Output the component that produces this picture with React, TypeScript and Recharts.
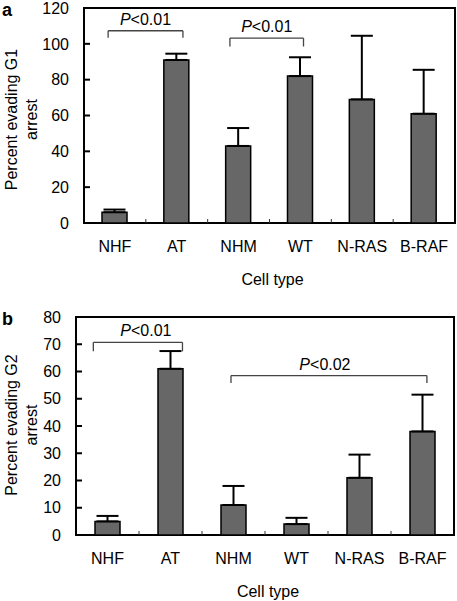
import React from 'react';
import { BarChart, Bar, XAxis, YAxis, ErrorBar, ReferenceLine, ReferenceArea } from 'recharts';

const FONT = '"Liberation Sans", Arial, Helvetica, sans-serif';

const categories = ['NHF', 'AT', 'NHM', 'WT', 'N-RAS', 'B-RAF'];

const g1Means = [6, 91, 43, 82, 69, 61];
const g1Errors = [1.5, 3.5, 10, 10.5, 35.5, 24.5];
const g1Ticks = [0, 20, 40, 60, 80, 100, 120];

const g2Means = [5, 61, 11, 4, 21, 38];
const g2Errors = [2, 6.5, 7, 2.3, 8.5, 13.5];
const g2Ticks = [0, 10, 20, 30, 40, 50, 60, 70, 80];

// significance brackets in data units
const g1Brackets = [
  { x1: -0.11, x2: 1.1, y: 107.3, yEnd: 103.4, text: '<0.01', dx: 0 },
  { x1: 1.86, x2: 3.05, y: 103.2, yEnd: 98.5, text: '<0.01', dx: 0 },
];
const g2Brackets = [
  { x1: -0.225, x2: 1.19, y: 70.7, yEnd: 67.4, text: '<0.01', dx: 8 },
  { x1: 1.96, x2: 5.07, y: 58.5, yEnd: 55.8, text: '<0.02', dx: -4 },
];

const TM_X = 18;
const TM_Y = 15;

type PanelProps = {
  means: number[];
  errors: number[];
  yTicks: number[];
  brackets: typeof g1Brackets;
  letter: string;
  yLabel: string;
  width: number;
  height: number;
  top: number;
  right: number;
  yAxisWidth: number;
  xAxisHeight: number;
  letterY: number;
  yLabelDy: number;
};

function Panel(p: PanelProps) {
  const data = categories.map((c, i) => ({ x: i, name: c, value: p.means[i], err: [0, p.errors[i]] }));
  const band = (p.width - p.yAxisWidth - p.right) / categories.length;
  const yMax = p.yTicks[p.yTicks.length - 1];

  const XTick = (props: any) => {
    const { x, y, payload } = props;
    const v = payload.value as number;
    const axisY = y - TM_X;
    return (
      <g>
        <text x={x} y={y} dy="0.71em" textAnchor="middle" fontSize={16} fill="#000" fontFamily={FONT}>
          {categories[v]}
        </text>
        {v < categories.length - 1 && (
          <line x1={x + band / 2} x2={x + band / 2} y1={axisY} y2={axisY - 4} stroke="#333" strokeWidth={1} />
        )}
      </g>
    );
  };

  const YTick = (props: any) => {
    const { x, y, payload } = props;
    return (
      <g>
        <text x={x} y={y} dy="0.355em" textAnchor="end" fontSize={16} fill="#000" fontFamily={FONT}>
          {payload.value}
        </text>
        <line x1={x + TM_Y} x2={x + TM_Y + 6} y1={y} y2={y} stroke="#000" strokeWidth={2} />
      </g>
    );
  };

  const YLabel = (props: any) => {
    const vb = props.viewBox;
    const cy = vb.y + vb.height / 2 + p.yLabelDy;
    return (
      <g fontFamily={FONT} fontSize={16} fill="#000">
        <text x={2} y={p.letterY} fontSize={18} fontWeight="bold" fill="#000">{p.letter}</text>
        <text x={17} y={cy} textAnchor="middle" transform={`rotate(-90, 17, ${cy})`} fill="#000">
          {p.yLabel}
        </text>
        <text x={37} y={cy} textAnchor="middle" transform={`rotate(-90, 37, ${cy})`} fill="#000">
          arrest
        </text>
      </g>
    );
  };

  const XLabel = (props: any) => {
    const vb = props.viewBox;
    return (
      <text x={vb.x + vb.width / 2 + 3} y={vb.y + 62} textAnchor="middle" fontSize={16} fill="#000" fontFamily={FONT}>
        Cell type
      </text>
    );
  };

  const bracketLabel = (text: string, dx: number) => (props: any) => {
    const vb = props.viewBox;
    return (
      <text x={vb.x + vb.width / 2 + dx} y={vb.y - 6} textAnchor="middle" fontSize={16} fill="#000" fontFamily={FONT}>
        <tspan fontStyle="italic">P</tspan>
        <tspan>{text}</tspan>
      </text>
    );
  };

  return (
    <BarChart
      width={p.width}
      height={p.height}
      data={data}
      margin={{ top: p.top, right: p.right, left: 0, bottom: 0 }}
      style={{ fontFamily: FONT }}
    >
      <XAxis
        dataKey="x"
        type="number"
        domain={[-0.5, categories.length - 0.5]}
        ticks={[0, 1, 2, 3, 4, 5]}
        interval={0}
        axisLine={false}
        tickLine={false}
        tickSize={0}
        tickMargin={TM_X}
        height={p.xAxisHeight}
        tick={XTick}
        label={{ content: XLabel }}
      />
      <YAxis
        type="number"
        domain={[0, yMax]}
        ticks={p.yTicks}
        interval={0}
        width={p.yAxisWidth}
        axisLine={false}
        tickLine={false}
        tickSize={0}
        tickMargin={TM_Y}
        tick={YTick}
        label={{ content: YLabel }}
      />
      <Bar dataKey="value" fill="#676767" stroke="#000" strokeWidth={1.5} barSize={25} isAnimationActive={false}>
        <ErrorBar dataKey="err" direction="y" width={11} stroke="#000" strokeWidth={2} />
      </Bar>
      <ReferenceArea
        x1={-0.5}
        x2={categories.length - 0.5}
        y1={0}
        y2={yMax}
        fill="none"
        stroke="#000"
        strokeWidth={2}
        ifOverflow="extendDomain"
      />
      {p.brackets.map((b, i) => (
        <ReferenceLine
          key={`h${i}`}
          segment={[{ x: b.x1, y: b.y }, { x: b.x2, y: b.y }]}
          stroke="#444"
          strokeWidth={1.3}
          label={{ content: bracketLabel(b.text, b.dx) }}
        />
      ))}
      {p.brackets.map((b, i) => (
        <ReferenceLine
          key={`l${i}`}
          segment={[{ x: b.x1, y: b.y }, { x: b.x1, y: b.yEnd }]}
          stroke="#444"
          strokeWidth={1.3}
        />
      ))}
      {p.brackets.map((b, i) => (
        <ReferenceLine
          key={`r${i}`}
          segment={[{ x: b.x2, y: b.y }, { x: b.x2, y: b.yEnd }]}
          stroke="#444"
          strokeWidth={1.3}
        />
      ))}
    </BarChart>
  );
}

export default function App() {
  return (
    <div style={{ position: 'absolute', left: 0, top: 0, width: 457, height: 601, background: '#fff', fontFamily: FONT }}>
      <div style={{ position: 'absolute', left: 0, top: 0 }}>
        <Panel
          means={g1Means}
          errors={g1Errors}
          yTicks={g1Ticks}
          brackets={g1Brackets}
          letter="a"
          yLabel="Percent evading G1"
          width={457}
          height={300}
          top={8}
          right={2}
          yAxisWidth={84}
          xAxisHeight={77}
          letterY={16}
          yLabelDy={4}
        />
      </div>
      <div style={{ position: 'absolute', left: 0, top: 300 }}>
        <Panel
          means={g2Means}
          errors={g2Errors}
          yTicks={g2Ticks}
          brackets={g2Brackets}
          letter="b"
          yLabel="Percent evading G2"
          width={457}
          height={301}
          top={17}
          right={3}
          yAxisWidth={76}
          xAxisHeight={66}
          letterY={25}
          yLabelDy={-1}
        />
      </div>
    </div>
  );
}
